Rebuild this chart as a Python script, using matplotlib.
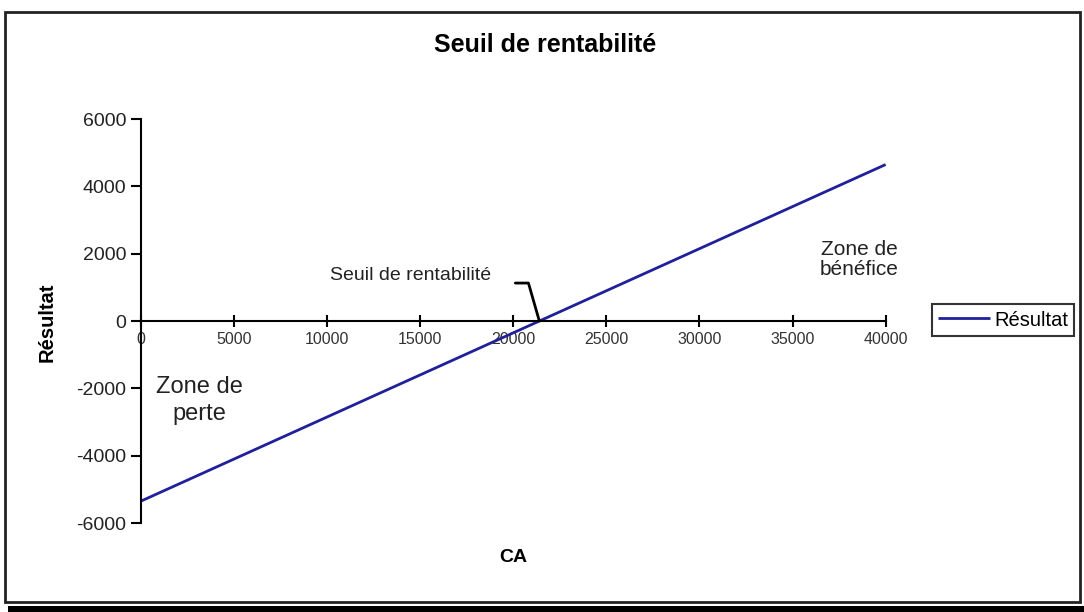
import matplotlib
matplotlib.use("Agg")
import matplotlib.pyplot as plt
from matplotlib.patches import Rectangle

plt.rcParams['font.family'] = ['Liberation Sans', 'DejaVu Sans']

ca = [0, 5000, 10000, 15000, 20000, 25000, 30000, 35000, 40000]
resultat = [-5350, -4100, -2850, -1600, -350, 900, 2150, 3400, 4650]
x_ticks = [0, 5000, 10000, 15000, 20000, 25000, 30000, 35000, 40000]
y_ticks = [-6000, -4000, -2000, 0, 2000, 4000, 6000]
seuil = 21400

fig = plt.figure(figsize=(10.84, 6.12), dpi=100)
ax = fig.add_axes([0.130, 0.1454, 0.687, 0.660])

ax.plot(ca, resultat, color='#20209a', lw=2, label='Résultat', solid_capstyle='butt')

ax.set_xlim(0, 40000)
ax.set_ylim(-6000, 6000)
ax.set_xticks(x_ticks)
ax.set_yticks(y_ticks)
ax.set_xticklabels([str(v) for v in x_ticks])
ax.set_yticklabels([str(v) for v in y_ticks])

for s in ['top', 'right']:
    ax.spines[s].set_visible(False)
ax.spines['bottom'].set_position(('data', 0))
ax.spines['bottom'].set_linewidth(1.5)
ax.spines['left'].set_linewidth(1.5)
ax.tick_params(axis='x', direction='inout', length=8, width=1.5, pad=4,
               labelsize=11.5, labelcolor='#333333')
ax.tick_params(axis='y', direction='out', length=7, width=1.5, pad=3.5,
               labelsize=14, labelcolor='#222222')

fig.text(0.503, 1 - 45 / 612, 'Seuil de rentabilité', ha='center', va='center',
         fontsize=18, fontweight='bold')

fig.text(47 / 1084, 1 - 322 / 612, 'Résultat', rotation=90, ha='center', va='center',
         fontsize=14.5, fontweight='bold')
fig.text(513 / 1084, 1 - 558 / 612, 'CA', ha='center', va='center',
         fontsize=14, fontweight='bold')

ax.text(0.078, 0.304, 'Zone de\nperte', transform=ax.transAxes, ha='center', va='center',
        fontsize=17, color='#222222', linespacing=1.27)
ax.text(0.965, 0.652, 'Zone de\nbénéfice', transform=ax.transAxes, ha='center', va='center',
        fontsize=15, color='#222222', linespacing=1.05)

ax.annotate('', xy=(seuil, 0), xytext=(-24, 38), textcoords='offset pixels',
            arrowprops=dict(arrowstyle='-', color='black', lw=2,
                            connectionstyle='angle,angleA=0,angleB=106,rad=0',
                            shrinkA=0, shrinkB=0))
ax.annotate('Seuil de rentabilité', xy=(seuil, 0), xytext=(-48, 46), textcoords='offset pixels',
            ha='right', va='center', fontsize=14, color='#222222')

leg = fig.legend(loc='center left', bbox_to_anchor=(932 / 1084, 1 - 320 / 612),
                 frameon=True, fancybox=False, fontsize=14.5, handlelength=2.6,
                 handletextpad=0.2, borderpad=0.3, borderaxespad=0)
leg.get_frame().set_edgecolor('black')
leg.get_frame().set_linewidth(1.5)

fig.patches.append(Rectangle((5 / 1084, 1 - 602 / 612), 1075 / 1084, 590 / 612,
                             transform=fig.transFigure, fill=False, edgecolor='#222222',
                             lw=2))
fig.patches.append(Rectangle((8 / 1084, 0), 1076 / 1084, 6 / 612,
                             transform=fig.transFigure, facecolor='black', edgecolor='none'))

fig.savefig('out.png', dpi=100)
